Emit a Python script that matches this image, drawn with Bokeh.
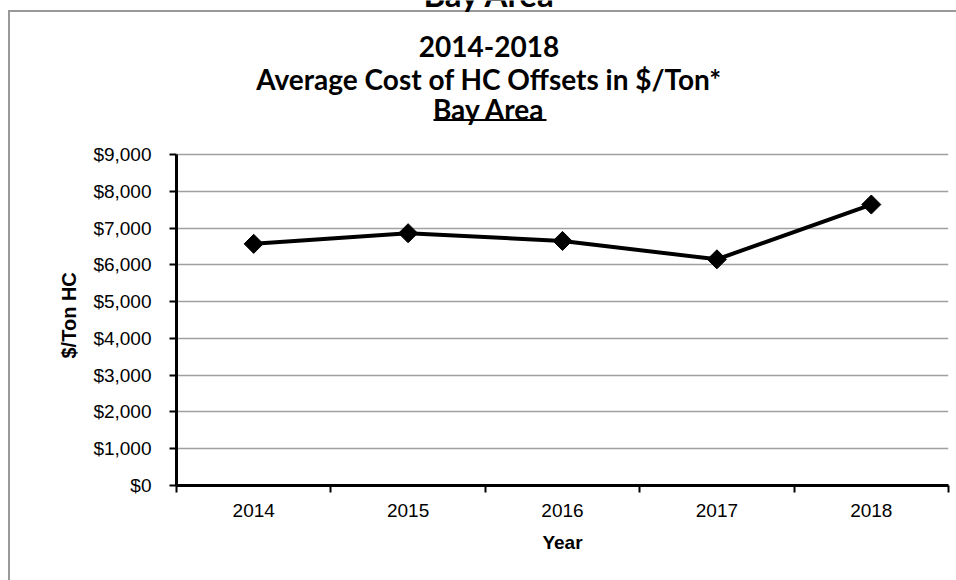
import numpy as np
from bokeh.plotting import figure
from bokeh.models import (Range1d, FixedTicker, NumeralTickFormatter, Label, LinearAxis,
                          Grid, Title)
from bokeh.embed import file_html
from bokeh.resources import INLINE

# ---- data ----
years = ["2014", "2015", "2016", "2017", "2018"]
cost = [6570, 6860, 6650, 6150, 7640]
y_ticks = [0, 1000, 2000, 3000, 4000, 5000, 6000, 7000, 8000, 9000]
title_lines = ["2014-2018", "Average Cost of HC Offsets in $/Ton*", "Bay Area"]
top_remnant = "Bay Area"
x_title = "Year"
y_title = "$/Ton HC"

# ---- layout (pixels) ----
OX, OY = 0, 0                # page position of the canvas
W, H = 960, 584
FRAME_L, FRAME_B = 176, 485  # page position of the plot frame's left / bottom
FRAME_W = 772
FRAME_H = FRAME_B - OY
MB_L = FRAME_L - OX
MB_R = W - MB_L - FRAME_W
MB_B = H - FRAME_H
grid_top_px = 331            # pixel height from $0 to $9,000
y_top = FRAME_H * y_ticks[-1] / grid_top_px
px_per_cat = FRAME_W / len(years)
SHIFT_EM = 0.32              # svg label baseline correction (em)

def py(page_y):
    return (FRAME_B - page_y) * y_ticks[-1] / grid_top_px

def px(page_x):
    return (page_x - FRAME_L) / px_per_cat

box = "#999999"
p = figure(width=W, height=H, output_backend="svg", toolbar_location=None,
           x_range=Range1d(0, len(years)), y_range=Range1d(0, y_top),
           min_border_left=MB_L, min_border_right=MB_R, min_border_top=0,
           min_border_bottom=MB_B, x_axis_type=None, y_axis_type=None,
           styles={"background": f"linear-gradient({box}, {box}) 8px 10px / 100% 2px no-repeat, "
                                 f"linear-gradient({box}, {box}) 8px 10px / 2px 100% no-repeat, white"})
p.outline_line_color = None
p.background_fill_color = None
p.border_fill_color = None

centers = [i + 0.5 for i in range(len(years))]
bounds = [float(i) for i in range(len(years) + 1)]

xaxis = LinearAxis(ticker=FixedTicker(ticks=centers, minor_ticks=bounds),
                   major_label_overrides={c: yr for c, yr in zip(centers, years)},
                   axis_label=x_title)
xaxis.axis_line_width = 3
xaxis.axis_line_color = "black"
xaxis.major_tick_line_color = None
xaxis.major_tick_out = 0
xaxis.major_tick_in = 0
xaxis.minor_tick_in = 0
xaxis.minor_tick_out = 7
xaxis.minor_tick_line_width = 2
xaxis.minor_tick_line_color = "black"
xaxis.major_label_standoff = 11
xaxis.major_label_text_font = "Liberation Sans"
xaxis.major_label_text_font_size = "19px"
xaxis.major_label_text_color = "black"
xaxis.axis_label_text_font = "Liberation Sans"
xaxis.axis_label_text_font_style = "bold"
xaxis.axis_label_text_font_size = "19px"
xaxis.axis_label_text_color = "black"
xaxis.axis_label_standoff = 12
p.add_layout(xaxis, "below")

yaxis = LinearAxis(ticker=FixedTicker(ticks=y_ticks),
                   formatter=NumeralTickFormatter(format="$0,0"),
                   bounds=(y_ticks[0], y_ticks[-1]))
yaxis.axis_line_width = 3
yaxis.axis_line_color = "black"
yaxis.major_tick_out = 7
yaxis.major_tick_in = 0
yaxis.major_tick_line_width = 2
yaxis.major_tick_line_color = "black"
yaxis.minor_tick_line_color = None
yaxis.major_label_standoff = 18
yaxis.major_label_text_font = "Liberation Sans"
yaxis.major_label_text_font_size = "19px"
yaxis.major_label_text_color = "black"
p.add_layout(yaxis, "left")

# y axis title, placed beside the $0-$9,000 span
p.add_layout(Title(text=y_title, align="left", offset=FRAME_B - 358, standoff=22,
                   text_font="Liberation Sans", text_font_style="bold",
                   text_font_size="20px", text_color="black"), "left")

grid = Grid(dimension=1, ticker=FixedTicker(ticks=y_ticks))
grid.grid_line_color = "#a0a0a0"
grid.grid_line_width = 1.4
p.add_layout(grid)

p.line(centers, cost, line_color="black", line_width=4)
p.scatter(centers, cost, marker="square", angle=np.pi / 4, size=13.5,
          fill_color="black", line_color="black")

# titles
title_x = px(488.5)
baselines = [55, 87, 117]
for txt, b in zip(title_lines, baselines):
    p.add_layout(Label(x=title_x, y=py(b - SHIFT_EM * 28), text=txt, text_align="center",
                       text_baseline="alphabetic", text_font="Lato",
                       text_font_style="bold", text_font_size="28px",
                       text_color="black"))
# underline of last title line
p.segment(x0=[px(433)], y0=[py(119.5)], x1=[px(546)], y1=[py(119.5)],
          line_color="black", line_width=2)

# clipped remnant of a heading above the chart box
p.add_layout(Label(x=px(489), y=py(4.5 - SHIFT_EM * 33), text=top_remnant, text_align="center",
                   text_baseline="alphabetic", text_font="Lato", text_font_style="bold",
                   text_font_size="33px", text_color="black"))

open("out.html", "w").write(file_html(p, INLINE))
